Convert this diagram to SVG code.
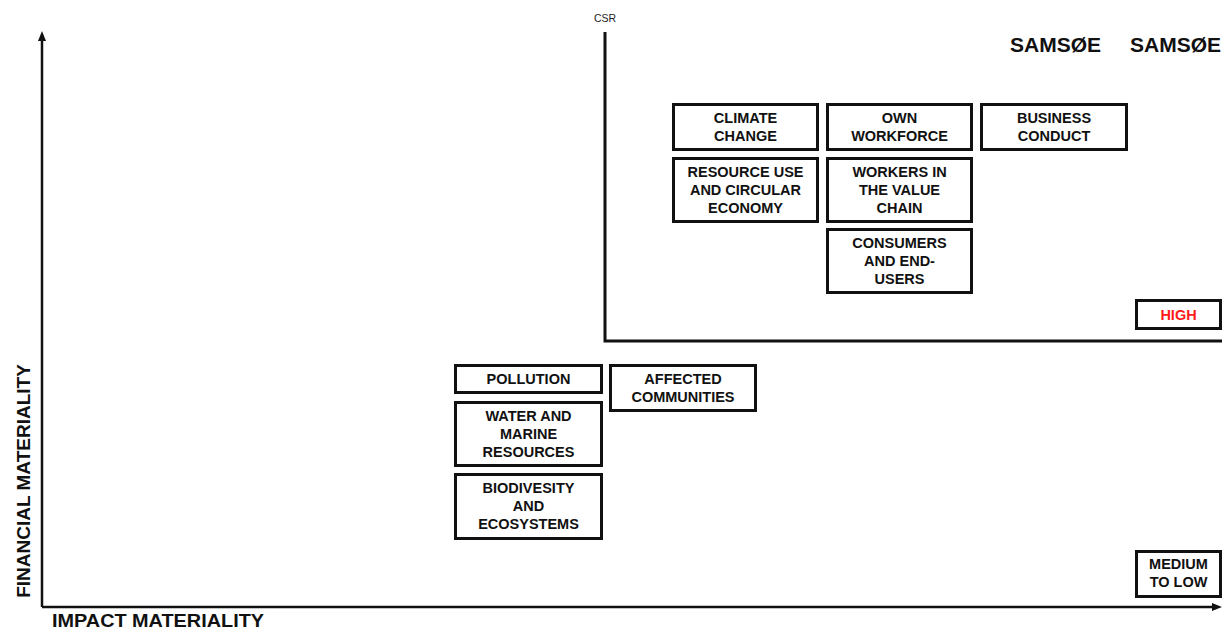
<svg xmlns="http://www.w3.org/2000/svg" width="1224" height="630" viewBox="0 0 1224 630">
<style>
.box{fill:#fff;stroke:#111;stroke-width:3}
.t{font-family:"Liberation Sans",Arial,sans-serif;font-weight:bold;font-size:14.5px;fill:#111;text-anchor:middle}
.ax{fill:none;stroke:#111;stroke-width:2.5}
.big{font-family:"Liberation Sans",Arial,sans-serif;font-weight:bold;font-size:21px;fill:#111}
.lab{font-family:"Liberation Sans",Arial,sans-serif;font-weight:bold;font-size:19px;fill:#111}
</style>
<rect width="1224" height="630" fill="#fff"/>
<g id="connectors">
<path class="ax" d="M42,607 V38"/>
<polygon points="42,31 38,41 46,41" fill="#111"/>
<path class="ax" d="M42,607 H1213"/>
<polygon points="1222,607 1212,603 1212,611" fill="#111"/>
<path d="M605,32 V341 H1222" fill="none" stroke="#111" stroke-width="3"/>
</g>
<g id="labels">
<text x="605" y="22" font-family="Liberation Sans,Arial,sans-serif" font-size="10.5" fill="#222" text-anchor="middle">CSR</text>
<text class="big" x="1010" y="52">SAMSØE</text>
<text class="big" x="1130" y="52">SAMSØE</text>
<text class="lab" x="52" y="627" textLength="212" lengthAdjust="spacingAndGlyphs">IMPACT MATERIALITY</text>
<text class="lab" transform="translate(30,481) rotate(-90)" text-anchor="middle">FINANCIAL MATERIALITY</text>
</g>
<g id="climate"><rect class="box" x="673.5" y="104.5" width="144" height="45"/><text class="t" x="745.5" y="123">CLIMATE</text><text class="t" x="745.5" y="141">CHANGE</text></g>
<g id="own"><rect class="box" x="827.5" y="104.5" width="144" height="45"/><text class="t" x="899.5" y="123">OWN</text><text class="t" x="899.5" y="141">WORKFORCE</text></g>
<g id="business"><rect class="box" x="981.5" y="104.5" width="145" height="45"/><text class="t" x="1054" y="123">BUSINESS</text><text class="t" x="1054" y="141">CONDUCT</text></g>
<g id="resource"><rect class="box" x="673.5" y="158.5" width="144" height="63"/><text class="t" x="745.5" y="177">RESOURCE USE</text><text class="t" x="745.5" y="195">AND CIRCULAR</text><text class="t" x="745.5" y="213">ECONOMY</text></g>
<g id="workers"><rect class="box" x="827.5" y="158.5" width="144" height="63"/><text class="t" x="899.5" y="177">WORKERS IN</text><text class="t" x="899.5" y="195">THE VALUE</text><text class="t" x="899.5" y="213">CHAIN</text></g>
<g id="consumers"><rect class="box" x="827.5" y="229.5" width="144" height="63"/><text class="t" x="899.5" y="248">CONSUMERS</text><text class="t" x="899.5" y="266">AND END-</text><text class="t" x="899.5" y="284">USERS</text></g>
<g id="high"><rect class="box" x="1136.5" y="300.5" width="84" height="28"/><text class="t" x="1178.5" y="320" style="fill:#ff1a1a">HIGH</text></g>
<g id="pollution"><rect class="box" x="455.5" y="365.5" width="146" height="27"/><text class="t" x="528.5" y="384">POLLUTION</text></g>
<g id="affected"><rect class="box" x="610.5" y="365.5" width="145" height="45"/><text class="t" x="683" y="384">AFFECTED</text><text class="t" x="683" y="402">COMMUNITIES</text></g>
<g id="water"><rect class="box" x="455.5" y="402.5" width="146" height="63"/><text class="t" x="528.5" y="421">WATER AND</text><text class="t" x="528.5" y="439">MARINE</text><text class="t" x="528.5" y="457">RESOURCES</text></g>
<g id="biodiversity"><rect class="box" x="455.5" y="474.5" width="146" height="64"/><text class="t" x="528.5" y="493">BIODIVESITY</text><text class="t" x="528.5" y="511">AND</text><text class="t" x="528.5" y="529">ECOSYSTEMS</text></g>
<g id="medium"><rect class="box" x="1136.5" y="551.5" width="84" height="45"/><text class="t" x="1178.5" y="569">MEDIUM</text><text class="t" x="1178.5" y="587">TO LOW</text></g>
</svg>
